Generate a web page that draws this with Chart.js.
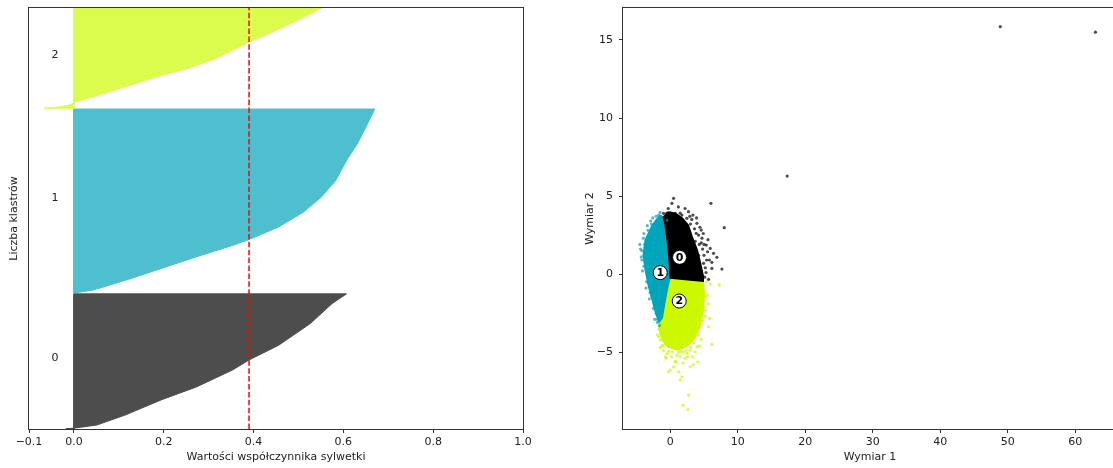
<!DOCTYPE html>
<html lang="pl">
<head>
<meta charset="utf-8">
<title>Analiza sylwetki i klastry</title>
<script src="https://cdn.jsdelivr.net/npm/chart.js@4.4.1/dist/chart.umd.min.js"></script>
<style>
  html, body { margin: 0; padding: 0; background: #fff; overflow: hidden; width: 1113px; height: 468px; }
  #wrap { position: relative; width: 1113px; height: 468px; overflow: hidden; }
  #silhouette { position: absolute; left: 0; top: 0; }
  #clusters { position: absolute; left: 560px; top: 0; }
</style>
</head>
<body>
<div id="wrap">
  <canvas id="silhouette" width="560" height="468"></canvas>
  <canvas id="clusters" width="560" height="468"></canvas>
</div>
<script>
// ---------- data ----------
const clusterNames = ['0', '1', '2'];

// silhouette profiles (sorted ascending): sample position and coefficient value
const silLower = [0, 323, 762];
const silUpper = [321, 760, 1000];
const sil0Pos  = [0.5, 2, 9.5, 33, 69, 100, 140, 164, 199, 251, 298, 321];
const sil0Vals = [-0.018, 0.0, 0.051, 0.114, 0.194, 0.273, 0.353, 0.39, 0.456, 0.527, 0.575, 0.607];
const sil1Pos  = [323, 330, 353, 381, 409, 436, 450, 480, 515, 551, 590, 638, 677, 725, 760];
const sil1Vals = [0.0, 0.043, 0.114, 0.194, 0.273, 0.353, 0.39, 0.456, 0.511, 0.551, 0.583, 0.607, 0.631, 0.654, 0.670];
const sil2Pos  = [762, 764, 768, 774, 776, 792, 813, 840, 855, 879, 919, 950, 978, 1000];
const sil2Vals = [-0.066, -0.04, -0.015, 0.0, 0.0, 0.051, 0.114, 0.194, 0.249, 0.313, 0.39, 0.456, 0.511, 0.552];
const silAverage = 0.39;
const silTicks = [-0.1, 0.0, 0.2, 0.4, 0.6, 0.8, 1.0];

// 2-D embedding: dense cores of each cluster (outline) and scattered points around them
const core0Outline = [[-1.04, 3.65], [-0.3, 3.97], [0.74, 3.9], [1.78, 3.59], [2.67, 3.14], [3.26, 2.37],
  [4.0, 1.54], [4.44, 0.77], [4.89, -0.13], [4.89, -0.45], [2.96, -0.38], [1.48, -0.32], [0.0, -0.26],
  [-0.15, 0.9], [-0.44, 2.18], [-0.74, 3.14]];
const core1Outline = [[-1.48, 3.78], [-2.67, 3.14], [-3.7, 2.18], [-4.0, 1.22], [-3.7, 0.26], [-3.26, -0.7],
  [-2.67, -1.67], [-2.07, -2.63], [-1.63, -3.08], [-1.19, -2.82], [-0.74, -1.67], [-0.3, -0.7], [0.0, -0.19],
  [-0.15, 0.9], [-0.44, 2.18], [-0.74, 3.14], [-1.04, 3.65]];
const core2Outline = [[0.0, -0.26], [1.48, -0.32], [2.96, -0.38], [4.89, -0.45], [5.04, -1.35], [4.89, -2.31],
  [4.44, -3.27], [3.7, -4.04], [2.67, -4.55], [1.19, -4.87], [-0.3, -4.68], [-1.19, -4.23], [-1.63, -3.59],
  [-1.63, -3.08], [-1.19, -2.82], [-0.74, -1.67], [-0.3, -0.7]];

const points0 = [[0.49, 4.85], [0.25, 4.53], [6.03, 4.53], [3.36, 3.78], [8.0, 2.97], [4.59, 2.82], [3.85, 2.61],
  [4.2, 2.5], [5.33, 1.86], [5.93, 1.65], [5.53, 1.43], [6.42, 1.33], [6.91, 1.07], [6.17, 0.75], [7.66, 0.32],
  [6.17, 0.36], [5.68, -0.34], [4.94, 0.69], [2.7, 4.0], [3.95, 3.25], [3.2, 3.5], [-0.5, 3.9], [1.48, 3.9],
  [-0.99, 3.89], [0.0, 3.93], [0.74, 3.89], [1.73, 3.78], [2.47, 3.57], [-0.49, 3.67], [4.6, 2.0], [5.0, 1.2],
  [5.2, 0.4], [4.7, 2.3], [3.0, 3.2], [5.4, 0.9], [4.4, 3.0], [3.6, 2.9], [5.1, -0.2],
  [4.3, 1.9], [4.8, 1.6], [5.6, 2.2], [4.9, 2.6], [4.5, 0.2], [5.3, 0.1], [4.7, -0.1], [3.9, 3.6], [2.2, 4.2],
  [1.2, 4.3], [-0.3, 4.2], [5.8, 0.9], [3.7, 2.1], [4.2, 1.2], [5.0, 1.9], [2.9, 3.7], [-0.8, 3.5],
  [17.33, 6.28], [48.9, 15.85], [63.0, 15.5]];
const points1 = [[-1.73, 3.78], [-1.23, 3.35], [-2.47, 2.82], [-3.21, 2.18], [-3.7, 1.54], [-3.46, 0.79],
  [-2.71, -1.45], [-2.07, -2.52], [-0.49, 3.46], [-4.2, 1.5], [-4.0, 2.3], [-3.9, 0.5], [-3.3, 2.8], [-2.8, 3.2],
  [-2.1, 3.7], [-3.5, -0.5], [-3.0, -1.2], [-2.5, -2.2], [-1.9, -2.9], [-1.6, -3.3], [-4.3, 1.1], [-3.8, 1.9],
  [-2.0, 3.45], [-1.5, 3.95], [-4.4, 1.6], [-4.1, 0.2], [-3.6, -0.9], [-3.9, 2.6], [-3.4, 3.1], [-2.6, 3.6],
  [-3.1, -1.6], [-2.3, -2.9], [-4.5, 1.9], [-4.2, 0.9], [-2.9, 3.4], [-1.9, -3.1]];
const points2 = [[7.26, -0.7], [5.93, -0.64], [5.53, -1.35], [5.83, -2.84], [5.68, -3.38], [6.17, -4.51],
  [4.2, -3.91], [3.95, -4.66], [3.7, -4.98], [1.48, -5.3], [0.74, -5.62], [-0.74, -5.3], [0.0, -6.15],
  [-0.25, -6.26], [2.96, -5.94], [4.05, -5.62], [1.73, -6.58], [1.48, -6.79], [2.71, -7.76], [1.88, -8.4],
  [2.62, -8.68], [1.23, -6.26], [-1.48, -4.23], [-1.73, -4.02], [-0.99, -4.55], [4.44, -2.95], [4.94, -2.1],
  [5.19, -1.45], [2.47, -5.08], [0.49, -5.94], [4.69, -0.81], [4.94, -1.13], [4.84, -1.67], [5.19, -2.31],
  [4.69, -2.52], [4.44, -3.38], [3.95, -3.59], [-0.5, -5.1], [0.3, -5.0], [1.0, -5.2], [2.0, -5.0], [2.9, -4.9],
  [3.3, -5.3], [0.8, -5.6], [-1.2, -4.6], [2.2, -5.4], [-0.2, -4.95], [3.0, -4.7], [1.6, -4.95],
  [-1.7, -3.5], [-1.4, -3.8], [5.4, -0.5], [5.6, -1.9], [5.2, -2.7], [4.8, -3.0], [4.6, -4.2], [3.5, -4.4],
  [2.4, -4.9], [-1.0, -4.9], [-0.6, -5.4], [1.9, -5.7], [2.6, -5.3], [3.4, -5.8], [-1.9, -3.9], [0.2, -5.3],
  [1.2, -5.0], [4.3, -4.6], [-1.5, -4.7]];

const centroidX = [1.38, -1.48, 1.33];
const centroidY = [1.07, 0.09, -1.73];

const embedXTicks = [0, 10, 20, 30, 40, 50, 60];
const embedYTicks = [-5, 0, 5, 10, 15];

// ---------- styling ----------
const FONT = 'DejaVu Sans';
const TEXT = '#222';
const AXIS = '#333';
const silColors = ['#4d4d4d', '#4dbfcf', '#dbfb4d'];
const coreColors = ['#000000', '#00a4bb', '#ccf900'];
const dotColors = ['rgba(0,0,0,0.7)', 'rgba(0,164,187,0.7)', 'rgba(204,249,0,0.7)'];

Chart.defaults.font.family = FONT;
Chart.defaults.font.size = 11;
Chart.defaults.color = TEXT;

const minus = s => String(s).replace('-', '\u2212');
const toXY = arr => arr.map(p => ({ x: p[0], y: p[1] }));

// fixed axis boxes, no automatic label overhang padding
const fixBox = (w, h) => s => {
  if (w !== null) s.width = w;
  if (h !== null) s.height = h;
  s.paddingTop = 0; s.paddingBottom = 0; s.paddingLeft = 0; s.paddingRight = 0;
};

// axes box drawn round the plotting area
const framePlugin = {
  id: 'frame',
  afterDatasetsDraw(chart) {
    const { ctx, chartArea: a } = chart;
    ctx.save();
    ctx.strokeStyle = AXIS;
    ctx.lineWidth = 1;
    ctx.strokeRect(Math.round(a.left) - 0.5, Math.round(a.top) - 0.5,
      Math.round(a.right - a.left) + 1, Math.round(a.bottom - a.top) + 1);
    ctx.restore();
  }
};

function silPolygon(lower, upper, pos, vals) {
  const pts = [{ x: 0, y: lower }];
  pos.forEach((p, i) => pts.push({ x: vals[i], y: p }));
  pts.push({ x: 0, y: upper });
  pts.push({ x: 0, y: lower });
  return pts;
}

const silProfiles = [[sil0Pos, sil0Vals], [sil1Pos, sil1Vals], [sil2Pos, sil2Vals]];

// cluster numbers next to each silhouette block
const clusterLabelPlugin = {
  id: 'clusterLabels',
  afterDatasetsDraw(chart) {
    const { ctx, scales: { x, y } } = chart;
    ctx.save();
    ctx.font = '11px "' + FONT + '"';
    ctx.fillStyle = TEXT;
    ctx.textAlign = 'left';
    ctx.textBaseline = 'alphabetic';
    clusterNames.forEach((name, i) => {
      const mid = silLower[i] + 0.5 * (silUpper[i] - silLower[i]);
      ctx.fillText(name, x.getPixelForValue(-0.05), y.getPixelForValue(mid));
    });
    ctx.restore();
  }
};

const silDatasets = silProfiles.map((prof, i) => ({
  data: silPolygon(silLower[i], silUpper[i], prof[0], prof[1]),
  fill: 'shape',
  backgroundColor: silColors[i],
  borderColor: silColors[i],
  borderWidth: 1,
  pointRadius: 0,
  order: 2
}));
silDatasets.push({
  data: [{ x: silAverage, y: 0 }, { x: silAverage, y: 1000 }],
  borderColor: '#ff0000',
  borderWidth: 1.5,
  borderDash: [5.5, 2.4],
  pointRadius: 0,
  fill: false,
  order: 0
});

new Chart(document.getElementById('silhouette'), {
  type: 'line',
  data: { datasets: silDatasets },
  options: {
    responsive: false,
    animation: false,
    events: [],
    layout: { autoPadding: false, padding: { left: 0, right: 37, top: 8, bottom: 0 } },
    plugins: { legend: { display: false }, tooltip: { enabled: false } },
    scales: {
      x: {
        type: 'linear', min: -0.1, max: 1.0,
        afterBuildTicks: s => { s.ticks = silTicks.map(v => ({ value: v })); },
        afterFit: fixBox(null, 39),
        ticks: { callback: v => minus(Number(v).toFixed(1)), padding: 3, color: TEXT, maxRotation: 0 },
        grid: { display: true, drawOnChartArea: false, drawTicks: true, tickLength: 4, color: AXIS },
        border: { display: false },
        title: { display: true, text: 'Wartości współczynnika sylwetki', color: TEXT, padding: { top: 0, bottom: 4.4 } }
      },
      y: {
        type: 'linear', min: 0, max: 1000,
        afterFit: fixBox(29, null),
        ticks: { display: false },
        grid: { display: false },
        border: { display: false },
        title: { display: true, text: 'Liczba klastrów', color: TEXT, padding: { top: 7.4, bottom: 0 } }
      }
    }
  },
  plugins: [framePlugin, clusterLabelPlugin]
});

// ---------- cluster embedding ----------
const closeRing = arr => toXY(arr.concat([arr[0]]));
const cores = [core0Outline, core1Outline, core2Outline];
const pointSets = [points0, points1, points2];

const embedDatasets = [];
cores.forEach((outline, i) => embedDatasets.push({
  data: closeRing(outline),
  fill: 'shape',
  backgroundColor: coreColors[i],
  borderColor: coreColors[i],
  borderWidth: 1.5,
  pointRadius: 0,
  order: 3
}));
pointSets.forEach((pts, i) => embedDatasets.push({
  data: toXY(pts),
  showLine: false,
  pointRadius: 1.6,
  pointBorderWidth: 0,
  pointBackgroundColor: dotColors[i],
  order: 2
}));
const centroidIndex = embedDatasets.length;
embedDatasets.push({
  data: centroidX.map((x, i) => ({ x, y: centroidY[i] })),
  showLine: false,
  pointRadius: 7,
  pointBorderWidth: 1,
  pointBorderColor: '#000',
  pointBackgroundColor: '#fff',
  order: 1
});

const centroidDigits = {
  id: 'centroidDigits',
  afterDatasetsDraw(chart) {
    const { ctx } = chart;
    const meta = chart.getDatasetMeta(centroidIndex);
    ctx.save();
    ctx.font = 'bold 11px "' + FONT + '"';
    ctx.fillStyle = '#000';
    ctx.textAlign = 'center';
    ctx.textBaseline = 'middle';
    meta.data.forEach((pt, i) => ctx.fillText(clusterNames[i], pt.x, pt.y + 0.5));
    ctx.restore();
  }
};

// the right spine lies just past the page edge
new Chart(document.getElementById('clusters'), {
  type: 'line',
  data: { datasets: embedDatasets },
  options: {
    responsive: false,
    animation: false,
    events: [],
    layout: { autoPadding: false, padding: { left: 0, right: 3, top: 8, bottom: 0 } },
    plugins: { legend: { display: false }, tooltip: { enabled: false } },
    scales: {
      x: {
        type: 'linear', min: -7.0, max: 66.2,
        afterBuildTicks: s => { s.ticks = embedXTicks.map(v => ({ value: v })); },
        afterFit: fixBox(null, 39),
        ticks: { callback: v => minus(v), padding: 3, color: TEXT, maxRotation: 0 },
        grid: { display: true, drawOnChartArea: false, drawTicks: true, tickLength: 4, color: AXIS },
        border: { display: false },
        title: { display: true, text: 'Wymiar 1', color: TEXT, padding: { top: 0, bottom: 4.4 } }
      },
      y: {
        type: 'linear', min: -9.93, max: 17.05,
        afterBuildTicks: s => { s.ticks = embedYTicks.map(v => ({ value: v })); },
        afterFit: fixBox(63, null),
        ticks: { callback: v => minus(v), padding: 6, color: TEXT },
        grid: { display: true, drawOnChartArea: false, drawTicks: true, tickLength: 4, color: AXIS },
        border: { display: false },
        title: { display: true, text: 'Wymiar 2', color: TEXT, padding: { top: 23.4, bottom: 0 } }
      }
    }
  },
  plugins: [framePlugin, centroidDigits]
});
</script>
</body>
</html>
